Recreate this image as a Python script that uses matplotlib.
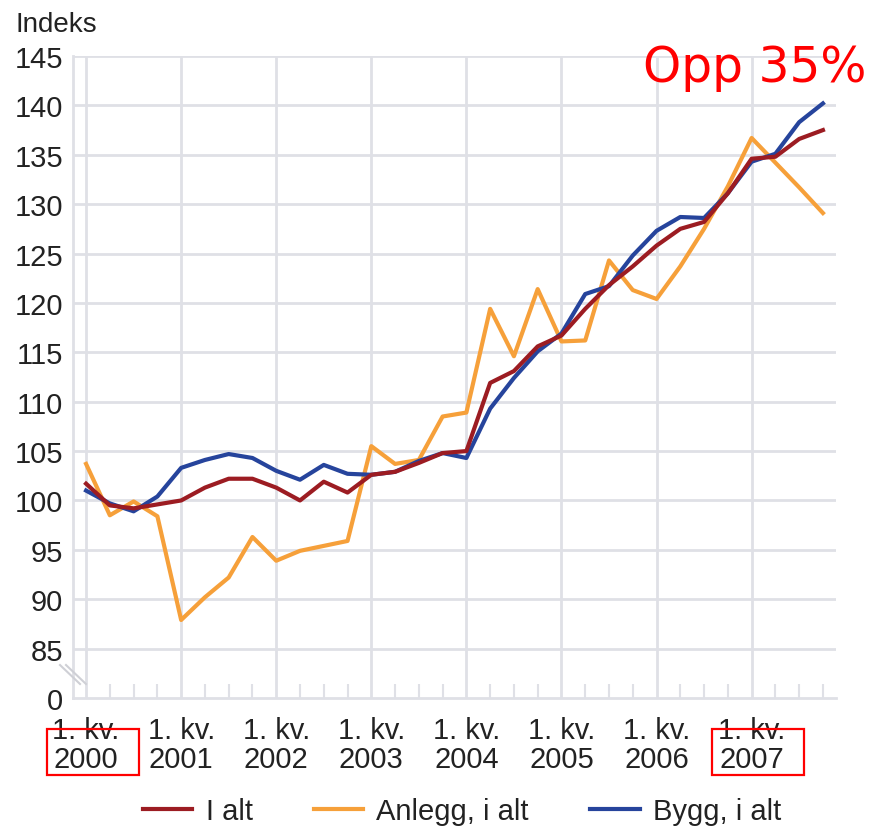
"""
Byggekostnadsindeks: I alt, Anlegg og Bygg, 1. kv. 2000 - 4. kv. 2007.
"""

import matplotlib
matplotlib.use("Agg")
import matplotlib.pyplot as plt
from matplotlib.patches import Rectangle
from matplotlib.lines import Line2D

plt.rcParams.update({'font.family': ['Liberation Sans', 'DejaVu Sans'],
                     'font.size': 21})

# ============================== data =========================================

years = [2000, 2001, 2002, 2003, 2004, 2005, 2006, 2007]
quarters = list(range(32))  # 1. kv. 2000 .. 4. kv. 2007

i_alt = [101.7, 99.5, 99.2, 99.6, 100.0, 101.3, 102.2, 102.2,
         101.3, 100.0, 101.9, 100.8, 102.6, 102.9, 103.8, 104.8,
         105.0, 111.9, 113.1, 115.6, 116.7, 119.4, 121.8, 123.7,
         125.8, 127.5, 128.2, 131.1, 134.6, 134.8, 136.6, 137.5]

anlegg = [103.7, 98.5, 99.9, 98.4, 87.9, 90.2, 92.2, 96.3,
          93.9, 94.9, 95.4, 95.9, 105.5, 103.7, 104.1, 108.5,
          108.9, 119.4, 114.6, 121.4, 116.1, 116.2, 124.3, 121.3,
          120.4, 123.7, 127.5, 131.8, 136.7, 134.2, 131.7, 129.1]

bygg = [101.0, 99.7, 98.9, 100.4, 103.3, 104.1, 104.7, 104.3,
        103.0, 102.1, 103.6, 102.7, 102.6, 102.9, 104.0, 104.8,
        104.3, 109.3, 112.4, 115.1, 116.9, 120.9, 121.7, 124.8,
        127.3, 128.7, 128.6, 131.1, 134.3, 135.1, 138.3, 140.2]

ytick_values = [80, 85, 90, 95, 100, 105, 110, 115, 120, 125, 130, 135, 140, 145]
ytick_labels = ['0'] + [str(v) for v in ytick_values[1:]]

# ============================== plot =========================================

GRID = '#dfe0e6'
TEXT = '#222222'


def main():
    fig = plt.figure(figsize=(8.76, 8.29), dpi=100)
    ax = fig.add_axes([73 / 876, 1 - 699 / 829, 763 / 876, 642 / 829])

    ax.plot(quarters, i_alt, color='#9c1c22', lw=3, label='I alt', zorder=4)
    ax.plot(quarters, anlegg, color='#f6a03a', lw=3, label='Anlegg, i alt', zorder=3)
    ax.plot(quarters, bygg, color='#26449c', lw=3, label='Bygg, i alt', zorder=3)

    ax.set_xlim(-0.55, 31.55)
    ax.set_ylim(80, 145)

    # horizontal grid (not at the broken "0" line)
    for v in ytick_values[1:]:
        ax.axhline(v, color=GRID, lw=2, zorder=1)
    # vertical grid at each year
    for i in range(0, 32, 4):
        ax.axvline(i, color=GRID, lw=2, zorder=1)

    ax.set_yticks(ytick_values)
    ax.set_yticklabels(ytick_labels, color=TEXT)
    ax.tick_params(axis='y', length=0, pad=7)

    ax.set_xticks(range(0, 32, 4))
    ax.set_xticklabels(['1. kv.\n{0}'.format(y) for y in years], color=TEXT,
                       linespacing=1.05)
    ax.set_xticks(quarters, minor=True)
    ax.tick_params(axis='x', which='major', length=0, pad=13)
    ax.tick_params(axis='x', which='minor', direction='in', length=10,
                   width=1.5, color=GRID)

    for side in ['top', 'right']:
        ax.spines[side].set_visible(False)
    for side in ['left', 'bottom']:
        ax.spines[side].set_color(GRID)
        ax.spines[side].set_linewidth(2)

    # axis break marks
    for dx in [0, 6]:
        fig.add_artist(Line2D([(60 + dx) / 876, (80 + dx) / 876],
                              [1 - 666 / 829, 1 - 685 / 829],
                              color='#cfd0d6', lw=1.5))

    fig.text(15 / 876, 1 - 32 / 829, 'Indeks', color=TEXT, va='baseline', fontsize=20)
    fig.text(643 / 876, 1 - 82 / 829, 'Opp 35%', color='#ff0000', fontsize=35,
             family='DejaVu Sans', va='baseline')

    # red boxes round the first and last year
    for x0 in [47, 712]:
        fig.add_artist(Rectangle((x0 / 876, 1 - 776 / 829), 92 / 876, 46 / 829,
                                 transform=fig.transFigure, fill=False,
                                 edgecolor='#ff0000', lw=1.6))

    fig.legend(loc='center', bbox_to_anchor=(462 / 876, 1 - 812 / 829), ncol=3,
               frameon=False, fontsize=21, handlelength=1.7, handletextpad=0.45,
               columnspacing=2.1, labelcolor=TEXT)

    plt.savefig('out.png', dpi=100)


if __name__ == '__main__':
    main()
